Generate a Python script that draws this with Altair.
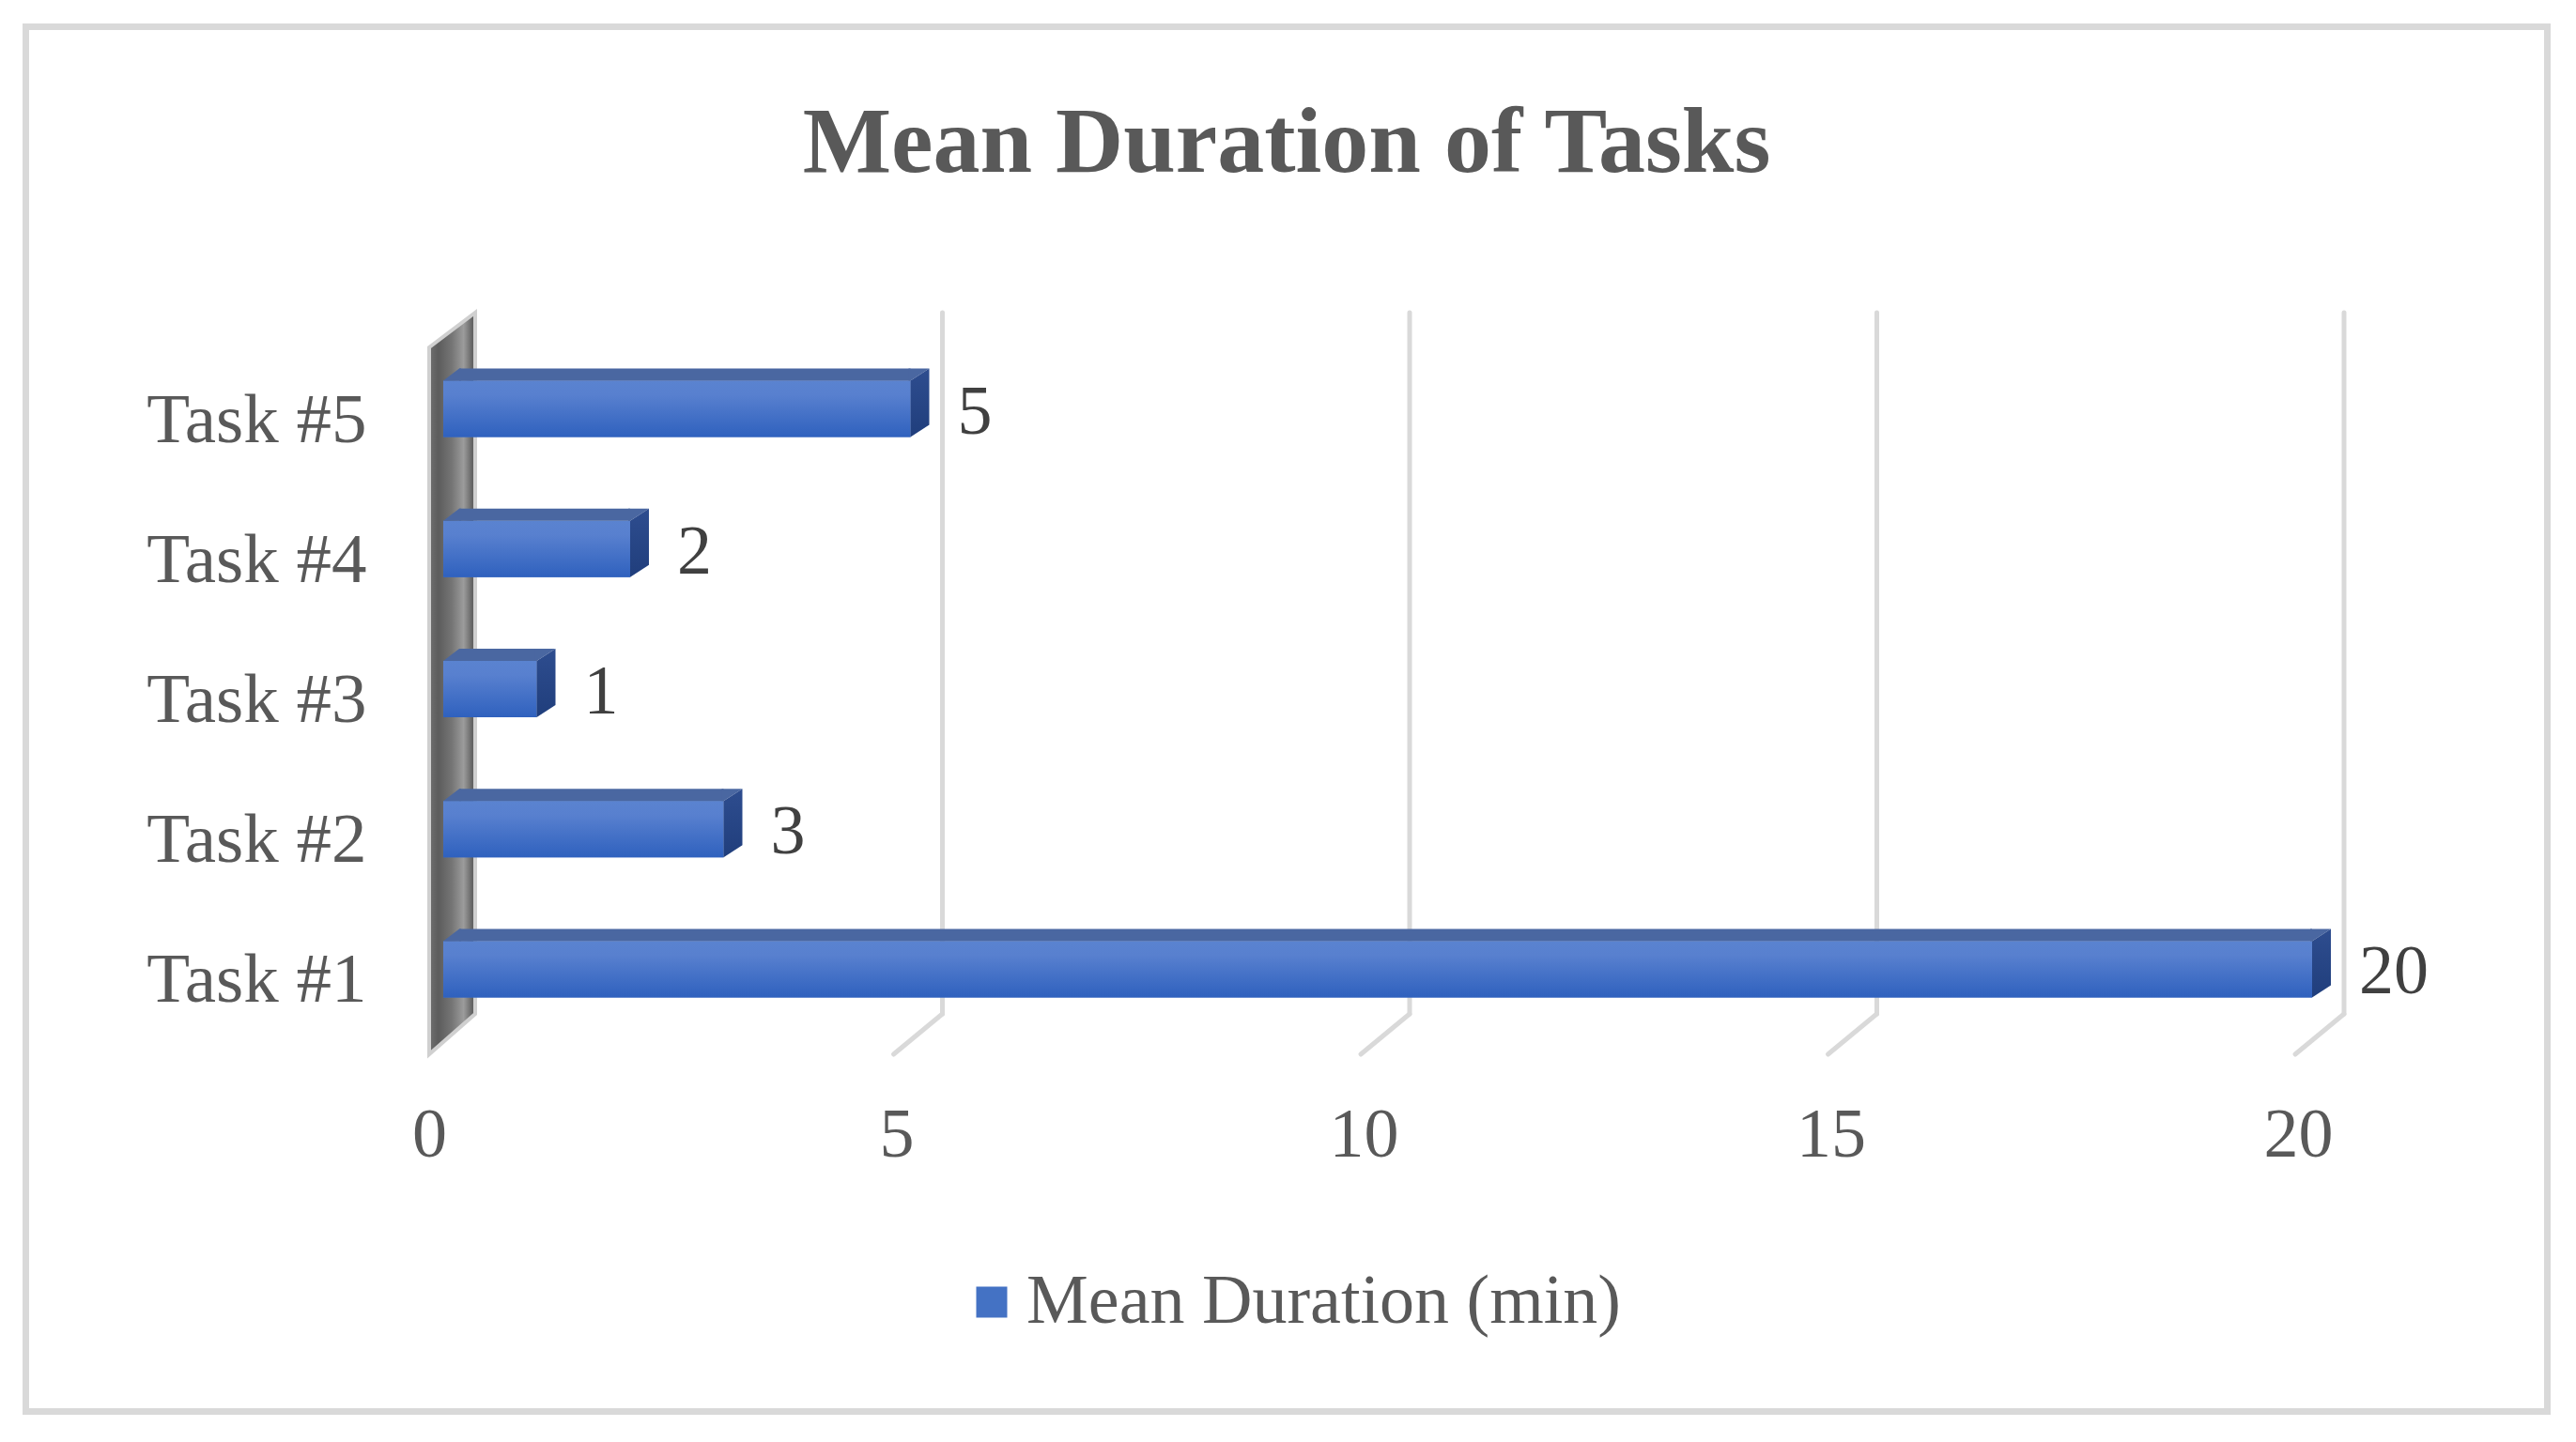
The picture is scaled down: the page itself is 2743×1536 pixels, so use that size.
import altair as alt
import pandas as pd

# ---------------- data ----------------
tasks = ["Task #1", "Task #2", "Task #3", "Task #4", "Task #5"]
durations = [20, 3, 1, 2, 5]
x_ticks = [0, 5, 10, 15, 20]
series_name = "Mean Duration (min)"
title_text = "Mean Duration of Tasks"

df = pd.DataFrame({"task": tasks, "value": durations, "series": [series_name] * len(tasks)})
grid_df = pd.DataFrame({"tick": [t for t in x_ticks if t > 0]})
one = pd.DataFrame({"k": [0]})

# ---------------- style ----------------
W, H = 1990, 746
FONT = "Liberation Serif"
GREY = "#595959"
GRID = "#D9D9D9"

x_scale = alt.Scale(domain=[0, 20], nice=False, zero=True)
y_order = list(reversed(tasks))
y_scale = alt.Scale(domain=y_order, paddingInner=0, paddingOuter=0)

front_grad = alt.Gradient(
    gradient="linear",
    stops=[alt.GradientStop(offset=0, color="#5A83D0"),
           alt.GradientStop(offset=0.25, color="#5880CF"),
           alt.GradientStop(offset=1, color="#2F61BE")],
    x1=0, x2=0, y1=0, y2=1)
side_grad = alt.Gradient(
    gradient="linear",
    stops=[alt.GradientStop(offset=0, color="#2E4D8F"),
           alt.GradientStop(offset=1, color="#203E7C")],
    x1=0, x2=0, y1=0, y2=1)
wall_grad = alt.Gradient(
    gradient="linear",
    stops=[alt.GradientStop(offset=0, color="#707070"),
           alt.GradientStop(offset=0.2, color="#5C5C5C"),
           alt.GradientStop(offset=0.5, color="#767676"),
           alt.GradientStop(offset=0.75, color="#9C9C9C"),
           alt.GradientStop(offset=0.92, color="#686868"),
           alt.GradientStop(offset=1, color="#585858")],
    x1=0, x2=1, y1=0, y2=0)
TOP = "#4A67A1"

x_axis = alt.Axis(values=x_ticks, format="d", domain=False, ticks=False, tickSize=0, grid=False,
                  labelFont=FONT, labelFontSize=74, labelColor=GREY, labelPadding=102,
                  labelBaseline="middle", labelFlush=False, labelOverlap=False, title=None)
y_axis = alt.Axis(domain=False, ticks=False, tickSize=0, grid=False,
                  labelFont=FONT, labelFontSize=75, labelColor=GREY, labelPadding=67,
                  labelOffset=12, labelAlign="right", labelBaseline="middle", labelLimit=1000,
                  title=None)

X = alt.X("value:Q", scale=x_scale, axis=x_axis)
Y = alt.Y("task:N", scale=y_scale, axis=y_axis)
X0 = alt.XDatum(0, scale=x_scale, axis=x_axis)

# ---------------- layers ----------------
border = alt.Chart(one).mark_rect(fillOpacity=0, stroke=GRID, strokeWidth=7).encode(
    x=alt.value(-429.5), x2=alt.value(2255.5), y=alt.value(-332.5), y2=alt.value(1142.5))

grid = alt.Chart(grid_df).mark_rule(color=GRID, strokeWidth=5, xOffset=49, strokeCap="round").encode(
    x=alt.X("tick:Q", scale=x_scale, axis=x_axis), y=alt.value(-28), y2=alt.value(719))

floor = alt.Chart(grid_df).mark_rule(color=GRID, strokeWidth=5, xOffset=49, x2Offset=-3,
                                     strokeCap="round").encode(
    x=alt.X("tick:Q", scale=x_scale, axis=x_axis), x2=alt.X2("tick"),
    y=alt.value(719), y2=alt.value(762))

wall = alt.Chart(one).mark_point(shape="M0,9 L49,-28 L49,719 L0,762 Z", size=4, filled=True,
                                 opacity=1, fill=wall_grad, stroke="#D0D0D0", strokeWidth=4).encode(
    x=X0, y=alt.value(0))

legend_bar = alt.Chart(df).mark_bar(size=60, xOffset=15, x2Offset=15).encode(
    x=X, x2=alt.datum(0), y=Y,
    color=alt.Color("series:N", scale=alt.Scale(domain=[series_name], range=["#4472C4"]),
                    legend=alt.Legend(title=None, orient="none", legendX=562, legendY=989,
                                      symbolType="square", symbolSize=1089, symbolStrokeWidth=0,
                                      labelFont=FONT, labelFontSize=74, labelColor=GREY,
                                      labelOffset=0, labelLimit=1200)))

front = alt.Chart(df).mark_bar(size=60, xOffset=15, x2Offset=15, color=front_grad).encode(
    x=X, x2=alt.datum(0), y=Y)

top = alt.Chart(df).mark_bar(size=13, yOffset=-36.5, xOffset=15, x2Offset=32, color=TOP).encode(
    x=X, x2=alt.datum(0), y=Y)

left_tri = alt.Chart(df).mark_point(shape="M15,-30 L32,-43 L34,-43 L34,-30 Z", size=4, filled=True,
                                    opacity=1, color=TOP).encode(x=X0, y=Y)

right_tri = alt.Chart(df).mark_point(shape="M13,-30 L13,-43 L35,-43 L15,-30 Z", size=4, filled=True,
                                     opacity=1, color=TOP).encode(x=X, y=Y)

right_face = alt.Chart(df).mark_point(shape="M15,-30 L35,-43 L35,17 L15,30 Z", size=4, filled=True,
                                      opacity=1, fill=side_grad).encode(x=X, y=Y)

values = alt.Chart(df).mark_text(align="left", baseline="middle", xOffset=65, yOffset=4,
                                 font=FONT, fontSize=74, color="#404040").encode(
    x=X, y=Y, text=alt.Text("value:Q", format="d"))

chart = alt.layer(
    border, grid, floor, wall, legend_bar, front, top, left_tri, right_tri, right_face, values
).properties(
    width=W, height=H,
    padding={"left": 449, "top": 353, "right": 280, "bottom": 410},
    autosize=alt.AutoSizeParams(type="none"),
    background="white",
    title=alt.TitleParams(text=title_text, font=FONT, fontSize=100, fontWeight="bold", color=GREY,
                          anchor="middle", frame="group", baseline="alphabetic", offset=-258, dx=-82),
).configure_view(stroke="transparent", strokeWidth=0)

chart.save("out.html", embed_options={"renderer": "svg", "actions": False})
